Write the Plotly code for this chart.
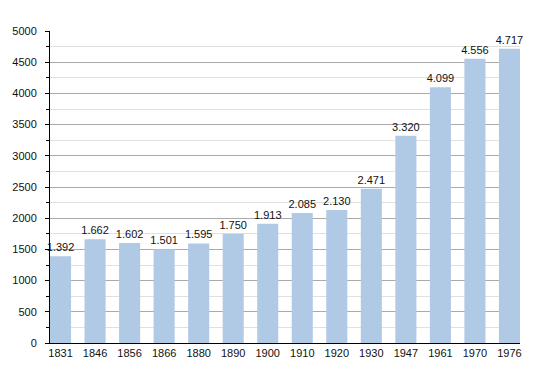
import plotly.graph_objects as go

years = ["1831", "1846", "1856", "1866", "1880", "1890", "1900", "1910", "1920", "1930", "1947", "1961", "1970", "1976"]
population = [1392, 1662, 1602, 1501, 1595, 1750, 1913, 2085, 2130, 2471, 3320, 4099, 4556, 4717]
labels = [f"{v // 1000}.{v % 1000:03d}" for v in population]

fig = go.Figure(go.Bar(
    x=list(range(len(years))), y=population,
    text=labels, textposition="outside", cliponaxis=False, constraintext="none",
    textfont=dict(family="Liberation Sans, Arial", size=11, color="#111111"),
    marker=dict(color="#b0c9e5", line=dict(width=0)),
    width=0.61, hoverinfo="skip",
))

fig.update_layout(
    width=550, height=373,
    margin=dict(l=50, r=30, t=31, b=30),
    paper_bgcolor="white", plot_bgcolor="white",
    showlegend=False,
    font=dict(family="Liberation Sans, Arial", size=11, color="#111111"),
)
fig.update_xaxes(
    range=[-0.305, 13.305],
    tickmode="array", tickvals=list(range(len(years))), ticktext=years,
    showgrid=False, showline=True, linecolor="black", linewidth=1,
    ticks="", tickfont=dict(size=11),
)
fig.update_yaxes(
    range=[0, 5000], dtick=500,
    showgrid=True, gridcolor="#aaaaaa", gridwidth=1,
    showline=True, linecolor="black", linewidth=1,
    ticks="outside", ticklen=4, tickcolor="black", ticklabelstandoff=6,
    minor=dict(dtick=250, showgrid=True, gridcolor="#e0e0e0", ticks="outside", ticklen=3, tickcolor="black"),
    zeroline=False, tickfont=dict(size=11),
)

fig.write_html("out.html", config={"displayModeBar": False},
               post_script="document.body.style.margin='0';")
